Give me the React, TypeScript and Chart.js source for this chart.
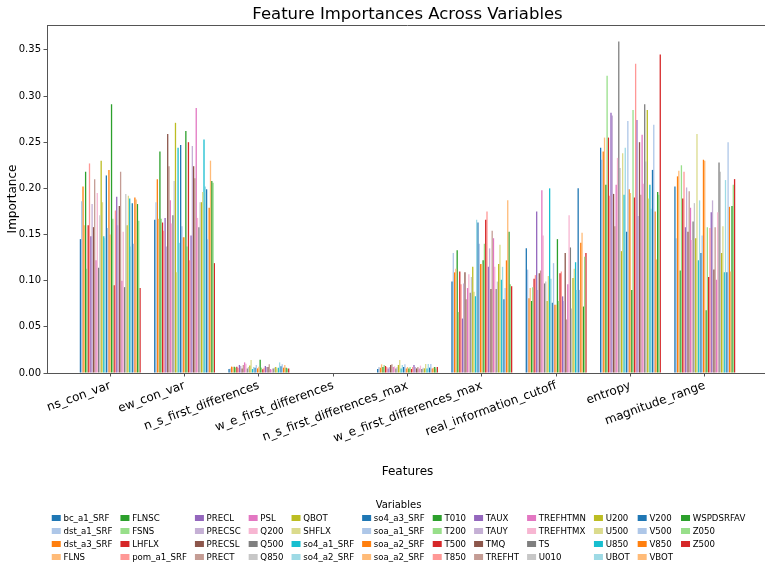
import React, { useEffect, useRef } from 'react';
import { Chart, registerables } from 'chart.js';

Chart.register(...registerables);

const FEATURES = [
  'ns_con_var', 'ew_con_var', 'n_s_first_differences', 'w_e_first_differences',
  'n_s_first_differences_max', 'w_e_first_differences_max', 'real_information_cutoff',
  'entropy', 'magnitude_range',
];

const VARIABLES = [
  'bc_a1_SRF', 'dst_a1_SRF', 'dst_a3_SRF', 'FLNS', 'FLNSC', 'FSNS', 'LHFLX', 'pom_a1_SRF',
  'PRECL', 'PRECSC', 'PRECSL', 'PRECT', 'PSL', 'Q200', 'Q500', 'Q850', 'QBOT', 'SHFLX',
  'so4_a1_SRF', 'so4_a2_SRF', 'so4_a3_SRF', 'soa_a1_SRF', 'soa_a2_SRF', 'soa_a2_SRF',
  'T010', 'T200', 'T500', 'T850', 'TAUX', 'TAUY', 'TMQ', 'TREFHT', 'TREFHTMN', 'TREFHTMX',
  'TS', 'U010', 'U200', 'U500', 'U850', 'UBOT', 'V200', 'V500', 'V850', 'VBOT',
  'WSPDSRFAV', 'Z050', 'Z500',
];

// one array per feature, 47 values each (in VARIABLES order)
const NS_CON_VAR = [0.145, 0.186, 0.202, 0.160, 0.218, 0.113, 0.160, 0.227, 0.148, 0.183,
  0.158, 0.210, 0.122, 0.195, 0.114, 0.171, 0.230, 0.185, 0.148, 0.146,
  0.214, 0.157, 0.220, 0.150, 0.291, 0.167, 0.095, 0.176, 0.191, 0.160,
  0.181, 0.218, 0.100, 0.153, 0.093, 0.194, 0.160, 0.192, 0.189, 0.137,
  0.184, 0.140, 0.190, 0.188, 0.183, 0.165, 0.092];
const EW_CON_VAR = [0.166, 0.185, 0.210, 0.167, 0.240, 0.167, 0.163, 0.154, 0.168, 0.137,
  0.259, 0.224, 0.187, 0.162, 0.171, 0.208, 0.271, 0.109, 0.244, 0.141,
  0.247, 0.159, 0.147, 0.147, 0.262, 0.137, 0.250, 0.122, 0.149, 0.246,
  0.224, 0.211, 0.287, 0.168, 0.158, 0.185, 0.185, 0.196, 0.253, 0.202,
  0.199, 0.145, 0.179, 0.230, 0.208, 0.206, 0.119];
const N_S_FIRST_DIFF = [0.0043, 0.005, 0.0069, 0.0065, 0.0069, 0.006, 0.0069, 0.0054, 0.0087, 0.0076,
  0.005, 0.0087, 0.0115, 0.010, 0.005, 0.0065, 0.008, 0.014, 0.0043, 0.0065,
  0.0058, 0.0087, 0.005, 0.0069, 0.0144, 0.0058, 0.004, 0.0058, 0.0076, 0.0065,
  0.0065, 0.0094, 0.0043, 0.0036, 0.005, 0.0058, 0.0065, 0.005, 0.0058, 0.0115,
  0.0072, 0.0094, 0.0058, 0.0087, 0.0058, 0.005, 0.005];
const W_E_FIRST_DIFF = [0, 0, 0, 0, 0, 0, 0, 0, 0, 0,
  0, 0, 0, 0, 0, 0, 0, 0, 0, 0,
  0, 0, 0, 0, 0, 0, 0, 0, 0, 0,
  0, 0, 0, 0, 0, 0, 0, 0, 0, 0,
  0, 0, 0, 0, 0, 0, 0];
const N_S_FIRST_DIFF_MAX = [0.0043, 0.0065, 0.0058, 0.0094, 0.0065, 0.0087, 0.0076, 0.0065, 0.005, 0.0065,
  0.0087, 0.0094, 0.0065, 0.0072, 0.005, 0.0065, 0.0087, 0.014, 0.005, 0.0087,
  0.0065, 0.0094, 0.005, 0.0065, 0.005, 0.0065, 0.0043, 0.0065, 0.0087, 0.0065,
  0.005, 0.0065, 0.005, 0.008, 0.0043, 0.0058, 0.005, 0.0098, 0.005, 0.0098,
  0.0058, 0.0098, 0.005, 0.0058, 0.0065, 0.005, 0.0065];
const W_E_FIRST_DIFF_MAX = [0.099, 0.130, 0.109, 0.113, 0.133, 0.066, 0.110, 0.096, 0.059, 0.097,
  0.109, 0.080, 0.092, 0.107, 0.087, 0.104, 0.115, 0.088, 0.083, 0.166,
  0.163, 0.140, 0.118, 0.118, 0.122, 0.140, 0.166, 0.175, 0.115, 0.135,
  0.091, 0.154, 0.146, 0.115, 0.091, 0.099, 0.118, 0.139, 0.101, 0.115,
  0.080, 0.092, 0.122, 0.187, 0.153, 0.096, 0.094];
const REAL_INFO_CUTOFF = [0.135, 0.112, 0.081, 0.092, 0.078, 0.093, 0.102, 0.106, 0.175, 0.090,
  0.108, 0.111, 0.198, 0.149, 0.097, 0.099, 0.078, 0.105, 0.200, 0.102,
  0.076, 0.119, 0.074, 0.074, 0.145, 0.078, 0.108, 0.110, 0.083, 0.078,
  0.130, 0.058, 0.096, 0.171, 0.136, 0.070, 0.103, 0.113, 0.120, 0.090,
  0.200, 0.090, 0.141, 0.152, 0.072, 0.126, 0.130];
const ENTROPY = [0.244, 0.231, 0.240, 0.255, 0.204, 0.322, 0.255, 0.192, 0.282, 0.279,
  0.194, 0.159, 0.204, 0.233, 0.359, 0.222, 0.132, 0.238, 0.193, 0.244,
  0.153, 0.273, 0.199, 0.195, 0.090, 0.285, 0.190, 0.335, 0.274, 0.170,
  0.250, 0.193, 0.258, 0.205, 0.291, 0.229, 0.285, 0.189, 0.204, 0.178,
  0.220, 0.269, 0.175, 0.123, 0.196, 0.193, 0.345];
const MAGNITUDE_RANGE = [0.202, 0.146, 0.213, 0.219, 0.111, 0.225, 0.189, 0.218, 0.158, 0.201,
  0.153, 0.197, 0.179, 0.144, 0.164, 0.184, 0.146, 0.259, 0.122, 0.187,
  0.130, 0.149, 0.231, 0.230, 0.068, 0.158, 0.104, 0.157, 0.174, 0.187,
  0.112, 0.158, 0.101, 0.174, 0.228, 0.218, 0.130, 0.159, 0.109, 0.209,
  0.109, 0.250, 0.180, 0.110, 0.181, 0.204, 0.210];

const GROUP_VALUES = [NS_CON_VAR, EW_CON_VAR, N_S_FIRST_DIFF, W_E_FIRST_DIFF, N_S_FIRST_DIFF_MAX,
  W_E_FIRST_DIFF_MAX, REAL_INFO_CUTOFF, ENTROPY, MAGNITUDE_RANGE];

const TAB20 = ['#1f77b4', '#aec7e8', '#ff7f0e', '#ffbb78', '#2ca02c', '#98df8a', '#d62728', '#ff9896',
  '#9467bd', '#c5b0d5', '#8c564b', '#c49c94', '#e377c2', '#f7b6d2', '#7f7f7f', '#c7c7c7',
  '#bcbd22', '#dbdb8d', '#17becf', '#9edae5'];

const AXIS_COLOR = '#555';
const FONT = "'DejaVu Sans', sans-serif";
const CANVAS_W = 800;
const CANVAS_H = 563;

export default function App() {
  const ref = useRef<HTMLCanvasElement>(null);

  useEffect(() => {
    const canvas = ref.current;
    if (!canvas) return;
    Chart.defaults.font.family = FONT;
    Chart.defaults.color = '#000';

    const groupSpan = 0.82;
    const n = FEATURES.length;
    const margin = 0.05 * (n - 1 + groupSpan);
    const xMin = -groupSpan / 2 - margin;
    const xMax = n - 1 + groupSpan / 2 + margin;
    const yMax = Math.max(...GROUP_VALUES.flat()) * 1.05;

    const datasets = VARIABLES.map((name, j) => ({
      label: name,
      data: GROUP_VALUES.map((vals, g) => ({ x: g, y: vals[j] })),
      backgroundColor: TAB20[j % 20],
      borderWidth: 0,
    }));

    const spinePlugin = {
      id: 'spines',
      afterDatasetsDraw(chart: any) {
        const { ctx, chartArea: a } = chart;
        ctx.save();
        ctx.strokeStyle = AXIS_COLOR;
        ctx.lineWidth = 1;
        ctx.beginPath();
        ctx.moveTo(a.left, Math.round(a.top) + 0.5);
        ctx.lineTo(a.right, Math.round(a.top) + 0.5);
        ctx.moveTo(Math.round(a.right) - 0.5, a.top);
        ctx.lineTo(Math.round(a.right) - 0.5, a.bottom);
        ctx.stroke();
        ctx.restore();
      },
    };

    const legendPlugin = {
      id: 'columnLegend',
      afterDraw(chart: any) {
        const ctx = chart.ctx;
        const ds = chart.data.datasets;
        const rows = 4;
        const cols = Math.ceil(ds.length / rows);
        const itemFont = 8.6;
        const handleW = 9;
        const handleH = 6;
        const textPad = 2.7;
        const colGap = 8;
        const pitch = 13;
        ctx.save();
        ctx.font = `${itemFont}px ${FONT}`;
        const colW: number[] = [];
        for (let c = 0; c < cols; c++) {
          let w = 0;
          for (let r = 0; r < rows; r++) {
            const i = c * rows + r;
            if (i < ds.length) w = Math.max(w, ctx.measureText(ds[i].label).width);
          }
          colW.push(w);
        }
        const total = colW.reduce((s, w) => s + handleW + textPad + w, 0) + colGap * (cols - 1);
        const centerX = 398.5;
        const titleY = chart.height - 58;
        const row0 = chart.height - 45;
        ctx.fillStyle = '#000';
        ctx.font = `10px ${FONT}`;
        ctx.textAlign = 'center';
        ctx.textBaseline = 'middle';
        ctx.fillText('Variables', centerX, titleY);
        ctx.font = `${itemFont}px ${FONT}`;
        ctx.textAlign = 'left';
        let x = centerX - total / 2;
        for (let c = 0; c < cols; c++) {
          for (let r = 0; r < rows; r++) {
            const i = c * rows + r;
            if (i >= ds.length) continue;
            const y = row0 + r * pitch;
            ctx.fillStyle = ds[i].backgroundColor;
            ctx.fillRect(x, y - handleH / 2, handleW, handleH);
            ctx.fillStyle = '#000';
            ctx.fillText(ds[i].label, x + handleW + textPad, y + 0.5);
          }
          x += handleW + textPad + colW[c] + colGap;
        }
        ctx.restore();
      },
    };

    const chart = new Chart(canvas, {
      type: 'bar',
      data: { datasets },
      options: {
        animation: false,
        responsive: false,
        devicePixelRatio: 1,
        categoryPercentage: groupSpan,
        barPercentage: 1,
        layout: { padding: { left: 0, right: CANVAS_W - 768, top: 0, bottom: 80 } },
        plugins: {
          legend: { display: false },
          tooltip: { enabled: false },
          title: {
            display: true,
            text: 'Feature Importances Across Variables',
            font: { size: 16.5, weight: 'normal', family: FONT },
            color: '#000',
            padding: { top: 4.8, bottom: 0.4 },
            fullSize: false,
          },
        },
        scales: {
          x: {
            type: 'linear',
            min: xMin,
            max: xMax,
            offset: false,
            afterBuildTicks: (s: any) => {
              s.ticks = FEATURES.map((_, i) => ({ value: i }));
            },
            afterFit: (s: any) => {
              s.height = 110;
            },
            ticks: {
              autoSkip: false,
              minRotation: 20,
              maxRotation: 20,
              includeBounds: false,
              padding: 2,
              color: '#000',
              font: { size: 12, family: FONT },
              callback: (v: any) => FEATURES[Math.round(Number(v))] ?? '',
            },
            grid: { display: true, offset: false, drawOnChartArea: false, drawTicks: true, tickLength: 3.5, color: AXIS_COLOR },
            border: { display: true, color: AXIS_COLOR, width: 1 },
            title: {
              display: true,
              text: 'Features',
              color: '#000',
              font: { size: 12, family: FONT },
              padding: { top: 0, bottom: 4 },
            },
          },
          y: {
            min: 0,
            max: yMax,
            afterFit: (s: any) => {
              s.width = 47;
            },
            ticks: {
              stepSize: 0.05,
              includeBounds: false,
              padding: 2.5,
              color: '#000',
              font: { size: 10, family: FONT },
              callback: (v: any) => Number(v).toFixed(2),
            },
            grid: { display: true, drawOnChartArea: false, drawTicks: true, tickLength: 3.5, color: AXIS_COLOR },
            border: { display: true, color: AXIS_COLOR, width: 1 },
            title: {
              display: true,
              text: 'Importance',
              color: '#000',
              font: { size: 12, family: FONT },
              padding: { top: 6, bottom: 0 },
            },
          },
        },
      },
      plugins: [spinePlugin, legendPlugin],
    } as any);

    return () => chart.destroy();
  }, []);

  return (
    <div style={{ position: 'fixed', left: 0, top: 0, width: 765, height: CANVAS_H, overflow: 'hidden', background: '#fff' }}>
      <div style={{ width: CANVAS_W, height: CANVAS_H }}>
        <canvas ref={ref} width={CANVAS_W} height={CANVAS_H} style={{ display: 'block', width: CANVAS_W, height: CANVAS_H }} />
      </div>
    </div>
  );
}
